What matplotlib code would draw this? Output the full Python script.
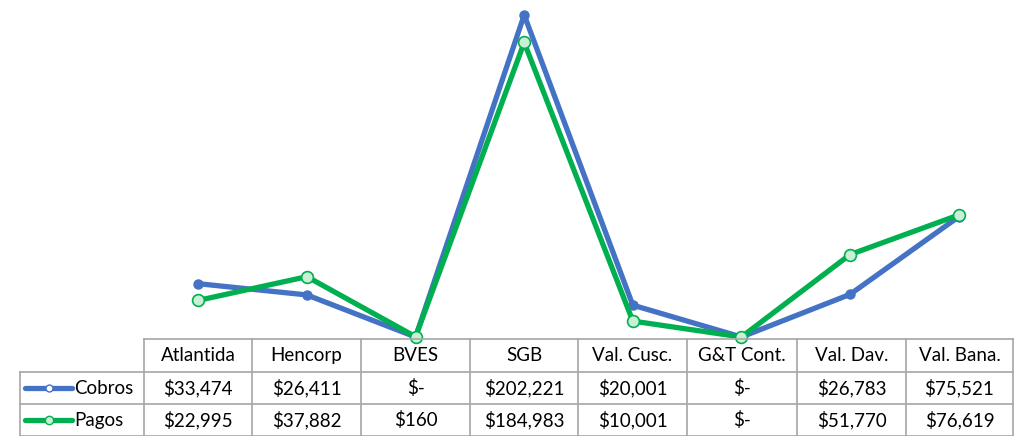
import matplotlib
matplotlib.use('Agg')
import matplotlib.pyplot as plt
from matplotlib.lines import Line2D

# ---------------- data ----------------
categories = ['Atlantida', 'Hencorp', 'BVES', 'SGB', 'Val. Cusc.', 'G&T Cont.', 'Val. Dav.', 'Val. Bana.']
cobros = [33474, 26411, 0, 202221, 20001, 0, 26783, 75521]
pagos = [22995, 37882, 160, 184983, 10001, 0, 51770, 76619]
cobros_txt = ['$33,474', '$26,411', '$-', '$202,221', '$20,001', '$-', '$26,783', '$75,521']
pagos_txt = ['$22,995', '$37,882', '$160', '$184,983', '$10,001', '$-', '$51,770', '$76,619']

BLUE = '#4472C4'
GREEN = '#00B050'
GRID = '#A6A6A6'

plt.rcParams['font.family'] = ['Lato', 'DejaVu Sans']

W, H = 1017, 436
fig = plt.figure(figsize=(W / 100, H / 100), dpi=100)

# pixel helpers
def fx(px):
    return px / W

def fy(py):
    return 1 - py / H

# ---------------- line chart ----------------
x0, x1 = 144, 1013
y_top, y_zero = 0, 337
ax = fig.add_axes([fx(x0), fy(y_zero), fx(x1) - fx(x0), fy(y_top) - fy(y_zero)])
ax.axis('off')
ax.set_xlim(-0.5, len(categories) - 0.5)
px_per_val = (337 - 15) / 202221
ax.set_ylim(0, (y_zero - y_top) / px_per_val)

xs = range(len(categories))
ax.plot(xs, cobros, color=BLUE, lw=3.8, marker='o', ms=6.5, mfc=BLUE, mec=BLUE,
        clip_on=False, solid_capstyle='round', zorder=3)
ax.plot(xs, pagos, color=GREEN, lw=3.8, marker='o', ms=8.5, mfc='#C9F0D6', mec=GREEN, mew=1.2,
        clip_on=False, solid_capstyle='round', zorder=4)

# ---------------- data table ----------------
col_edges = [144, 252, 361, 470, 578, 687, 797, 906, 1013]
row_edges = [339, 372, 404, 436]
left = 20

def hline(y, xa, xb):
    fig.add_artist(Line2D([fx(xa), fx(xb)], [fy(y), fy(y)], color=GRID, lw=1.2))

def vline(x, ya, yb):
    fig.add_artist(Line2D([fx(x), fx(x)], [fy(ya), fy(yb)], color=GRID, lw=1.2))

hline(row_edges[0], col_edges[0], col_edges[-1])
for y in row_edges[1:]:
    hline(y, left, col_edges[-1])
for x in col_edges:
    vline(x, row_edges[0], row_edges[-1])
vline(left, row_edges[1], row_edges[-1])

fs = 13.5
for i, cat in enumerate(categories):
    cx = (col_edges[i] + col_edges[i + 1]) / 2
    fig.text(fx(cx), fy((row_edges[0] + row_edges[1]) / 2), cat, ha='center', va='center', fontsize=fs)
    fig.text(fx(cx), fy((row_edges[1] + row_edges[2]) / 2), cobros_txt[i], ha='center', va='center', fontsize=fs)
    fig.text(fx(cx), fy((row_edges[2] + row_edges[3]) / 2), pagos_txt[i], ha='center', va='center', fontsize=fs)

# legend keys inside the table
for r, (name, col, mfc, ms) in enumerate([('Cobros', BLUE, 'white', 5), ('Pagos', GREEN, '#C9F0D6', 6)]):
    ym = fy((row_edges[r + 1] + row_edges[r + 2]) / 2)
    fig.add_artist(Line2D([fx(25), fx(72)], [ym, ym], color=col, lw=3.8, solid_capstyle='round'))
    fig.add_artist(Line2D([fx(48.5)], [ym], color=col, marker='o', ms=ms, mfc=mfc, mec=col, mew=1))
    fig.text(fx(74), ym, name, ha='left', va='center', fontsize=fs)

fig.savefig('out.png', dpi=100)
